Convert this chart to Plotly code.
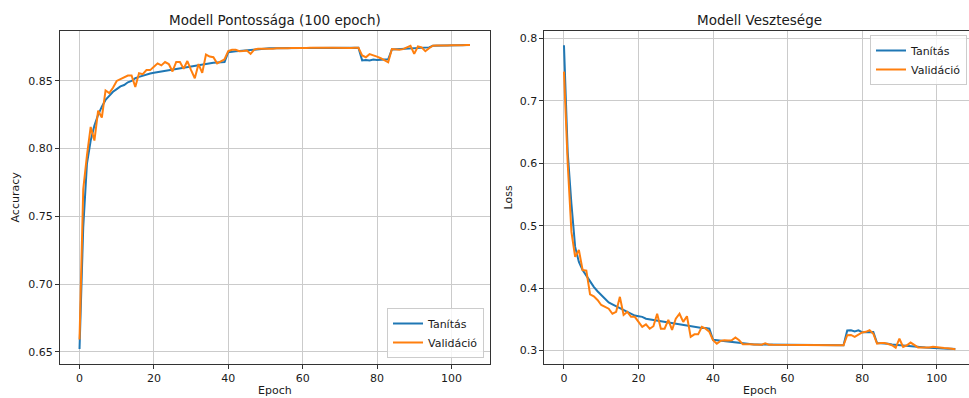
import plotly.graph_objects as go

epochs = list(range(106))

acc_train = [0.652, 0.742, 0.789, 0.806, 0.817, 0.825, 0.831, 0.836, 0.839, 0.842,
             0.844, 0.846, 0.847, 0.849, 0.850, 0.852, 0.853, 0.854, 0.855, 0.8555,
             0.856, 0.8565, 0.857, 0.8575, 0.858, 0.8585, 0.859, 0.8595, 0.860, 0.8603,
             0.8607, 0.861, 0.8615, 0.862, 0.8625, 0.863, 0.8635, 0.8637, 0.864, 0.864,
             0.8712, 0.8718, 0.872, 0.8722, 0.8725, 0.8728, 0.873, 0.8733, 0.8736, 0.8738,
             0.874, 0.8741, 0.8741, 0.8742, 0.8742, 0.8743, 0.8743, 0.8743, 0.8744, 0.8744,
             0.8744, 0.8744, 0.8744, 0.8745, 0.8745, 0.8745, 0.8745, 0.8745, 0.8745, 0.8745,
             0.8745, 0.8745, 0.8745, 0.8745, 0.8745, 0.8745, 0.8652, 0.8655, 0.8652, 0.8658,
             0.8655, 0.8655, 0.8658, 0.866, 0.8733, 0.8734, 0.8735, 0.8736, 0.8738, 0.874,
             0.8742, 0.8743, 0.8744, 0.8745, 0.8748, 0.876, 0.876, 0.8761, 0.8761, 0.8762,
             0.8762, 0.8763, 0.8763, 0.8764, 0.8764, 0.8765]

acc_val = [0.659, 0.770, 0.795, 0.816, 0.806, 0.828, 0.823, 0.843, 0.841, 0.845,
           0.850, 0.8515, 0.8525, 0.854, 0.854, 0.8455, 0.8557, 0.855, 0.858, 0.858,
           0.8605, 0.863, 0.8615, 0.864, 0.8625, 0.857, 0.864, 0.864, 0.859, 0.8647,
           0.858, 0.852, 0.8625, 0.856, 0.8695, 0.868, 0.8675, 0.863, 0.8645, 0.866,
           0.872, 0.873, 0.873, 0.872, 0.8722, 0.8725, 0.870, 0.8732, 0.8738, 0.8738,
           0.8735, 0.874, 0.8738, 0.8742, 0.8741, 0.8743, 0.8742, 0.8744, 0.8743, 0.8744,
           0.8745, 0.8744, 0.8745, 0.8744, 0.8745, 0.8745, 0.8744, 0.8745, 0.8745, 0.8744,
           0.8745, 0.8745, 0.8745, 0.8744, 0.8745, 0.8745, 0.8688, 0.8675, 0.8698, 0.869,
           0.868, 0.8668, 0.865, 0.8638, 0.8736, 0.8733, 0.873, 0.8735, 0.8745, 0.876,
           0.870, 0.8755, 0.8748, 0.872, 0.8742, 0.876, 0.8761, 0.876, 0.8762, 0.8761,
           0.8763, 0.8762, 0.8764, 0.8763, 0.8765, 0.8766]

loss_train = [0.789, 0.618, 0.535, 0.466, 0.442, 0.429, 0.420, 0.410, 0.402, 0.395,
              0.389, 0.384, 0.377, 0.374, 0.371, 0.367, 0.365, 0.361, 0.358, 0.356,
              0.355, 0.354, 0.351, 0.350, 0.349, 0.348, 0.346, 0.345, 0.344, 0.343,
              0.342, 0.341, 0.340, 0.340, 0.339, 0.338, 0.337, 0.336, 0.336, 0.335,
              0.3172, 0.3165, 0.3158, 0.315, 0.3145, 0.314, 0.3132, 0.3125, 0.311, 0.3102,
              0.3098, 0.3097, 0.3096, 0.3095, 0.3094, 0.3093, 0.3093, 0.3092, 0.3091, 0.3091,
              0.309, 0.309, 0.3089, 0.3089, 0.3088, 0.3088, 0.3088, 0.3087, 0.3087, 0.3087,
              0.3086, 0.3086, 0.3086, 0.3085, 0.3085, 0.3085, 0.3322, 0.3325, 0.3305, 0.3325,
              0.3295, 0.330, 0.3302, 0.3298, 0.312, 0.3118, 0.3115, 0.311, 0.3098, 0.3092,
              0.3088, 0.308, 0.3075, 0.307, 0.306, 0.305, 0.305, 0.3048, 0.3045, 0.304,
              0.3038, 0.3035, 0.3032, 0.303, 0.3028, 0.3025]

loss_val = [0.7466, 0.600, 0.490, 0.450, 0.461, 0.429, 0.428, 0.390, 0.387, 0.381,
            0.373, 0.370, 0.367, 0.359, 0.362, 0.386, 0.357, 0.362, 0.354, 0.354,
            0.346, 0.338, 0.342, 0.335, 0.339, 0.359, 0.335, 0.335, 0.349, 0.333,
            0.351, 0.359, 0.346, 0.355, 0.322, 0.326, 0.326, 0.338, 0.335, 0.330,
            0.3166, 0.311, 0.3155, 0.3166, 0.316, 0.3166, 0.321, 0.3166, 0.310, 0.3105,
            0.310, 0.3098, 0.3095, 0.3095, 0.3115, 0.3095, 0.3093, 0.3092, 0.3092, 0.309,
            0.309, 0.3089, 0.3088, 0.309, 0.3088, 0.3087, 0.3088, 0.3087, 0.3086, 0.3087,
            0.3086, 0.3087, 0.3086, 0.3085, 0.3086, 0.3085, 0.3246, 0.325, 0.322, 0.326,
            0.329, 0.330, 0.3326, 0.327, 0.311, 0.312, 0.312, 0.3105, 0.3085, 0.3045,
            0.319, 0.306, 0.3085, 0.3128, 0.3085, 0.305, 0.305, 0.3048, 0.305, 0.306,
            0.305, 0.3045, 0.304, 0.3037, 0.3032, 0.302]

series_names = ["Tanítás", "Validáció"]
titles = ["Modell Pontossága (100 epoch)", "Modell Vesztesége"]
y_titles = ["Accuracy", "Loss"]
x_title = "Epoch"

BLUE = "#1f77b4"
ORANGE = "#ff7f0e"
FONT = "DejaVu Sans"
TXT = "#1a1a1a"
W, H = 969, 398

fig = go.Figure()
for xa, ya, tr, va, lg in [("x", "y", acc_train, acc_val, "legend"),
                           ("x2", "y2", loss_train, loss_val, "legend2")]:
    fig.add_trace(go.Scatter(x=epochs, y=tr, mode="lines", name=series_names[0],
                             line=dict(color=BLUE, width=2), xaxis=xa, yaxis=ya,
                             legend=lg))
    fig.add_trace(go.Scatter(x=epochs, y=va, mode="lines", name=series_names[1],
                             line=dict(color=ORANGE, width=2), xaxis=xa, yaxis=ya,
                             legend=lg))


def px_x(p):
    return p / W


def px_y(p):
    return 1 - p / H


top, bot = 31, 364
common = dict(showgrid=True, gridcolor="#cbcbcb", gridwidth=1,
              showline=True, linecolor="#333333", linewidth=1,
              ticks="outside", ticklen=4, tickwidth=1, tickcolor="#333333",
              tickfont=dict(family=FONT, size=11, color=TXT), zeroline=False,
              automargin=False)

legend_common = dict(bgcolor="rgba(255,255,255,0.8)", bordercolor="#cccccc", borderwidth=1,
                     font=dict(family=FONT, size=11, color=TXT), itemwidth=30,
                     tracegroupgap=0)

fig.update_layout(
    width=W, height=H, margin=dict(l=0, r=0, t=0, b=0, autoexpand=False),
    paper_bgcolor="white", plot_bgcolor="white",
    font=dict(family=FONT, color=TXT),
    xaxis=dict(domain=[px_x(60), px_x(489.5)], range=[-5.25, 110.25], anchor="y",
               tickvals=[0, 20, 40, 60, 80, 100], mirror=True, **common),
    yaxis=dict(domain=[px_y(bot), px_y(top)], range=[0.6409, 0.8869], anchor="x",
               tickvals=[0.65, 0.70, 0.75, 0.80, 0.85], tickformat=".2f",
               mirror=True, **common),
    xaxis2=dict(domain=[px_x(544.4), 1.0], range=[-5.25, 108.67], anchor="y2",
                tickvals=[0, 20, 40, 60, 80, 100], mirror=True, **common),
    yaxis2=dict(domain=[px_y(bot), px_y(top)], range=[0.2785, 0.8117], anchor="x2",
                tickvals=[0.3, 0.4, 0.5, 0.6, 0.7, 0.8], tickformat=".1f",
                mirror=False, **common),
    legend=dict(x=px_x(484), y=px_y(358), xanchor="right", yanchor="bottom",
                **legend_common),
    legend2=dict(x=px_x(967), y=px_y(35), xanchor="right", yanchor="top",
                 **legend_common),
    showlegend=True,
)

ann = []
for cx, t in [((60 + 489.5) / 2, titles[0]), ((544.4 + 975) / 2, titles[1])]:
    ann.append(dict(text=t, x=px_x(cx), y=px_y(19.5), xref="paper", yref="paper",
                    xanchor="center", yanchor="middle", showarrow=False,
                    font=dict(family=FONT, size=13.5, color=TXT)))
    ann.append(dict(text=x_title, x=px_x(cx), y=px_y(390), xref="paper", yref="paper",
                    xanchor="center", yanchor="middle", showarrow=False,
                    font=dict(family=FONT, size=11, color=TXT)))
for xp, t in [(15, y_titles[0]), (508, y_titles[1])]:
    ann.append(dict(text=t, x=px_x(xp), y=px_y((top + bot) / 2), xref="paper", yref="paper",
                    xanchor="center", yanchor="middle", textangle=-90, showarrow=False,
                    font=dict(family=FONT, size=11, color=TXT)))
fig.update_layout(annotations=ann)

fig.write_html("out.html", config={"displayModeBar": False},
               post_script="document.body.style.margin='0';document.body.style.overflow='hidden';")
